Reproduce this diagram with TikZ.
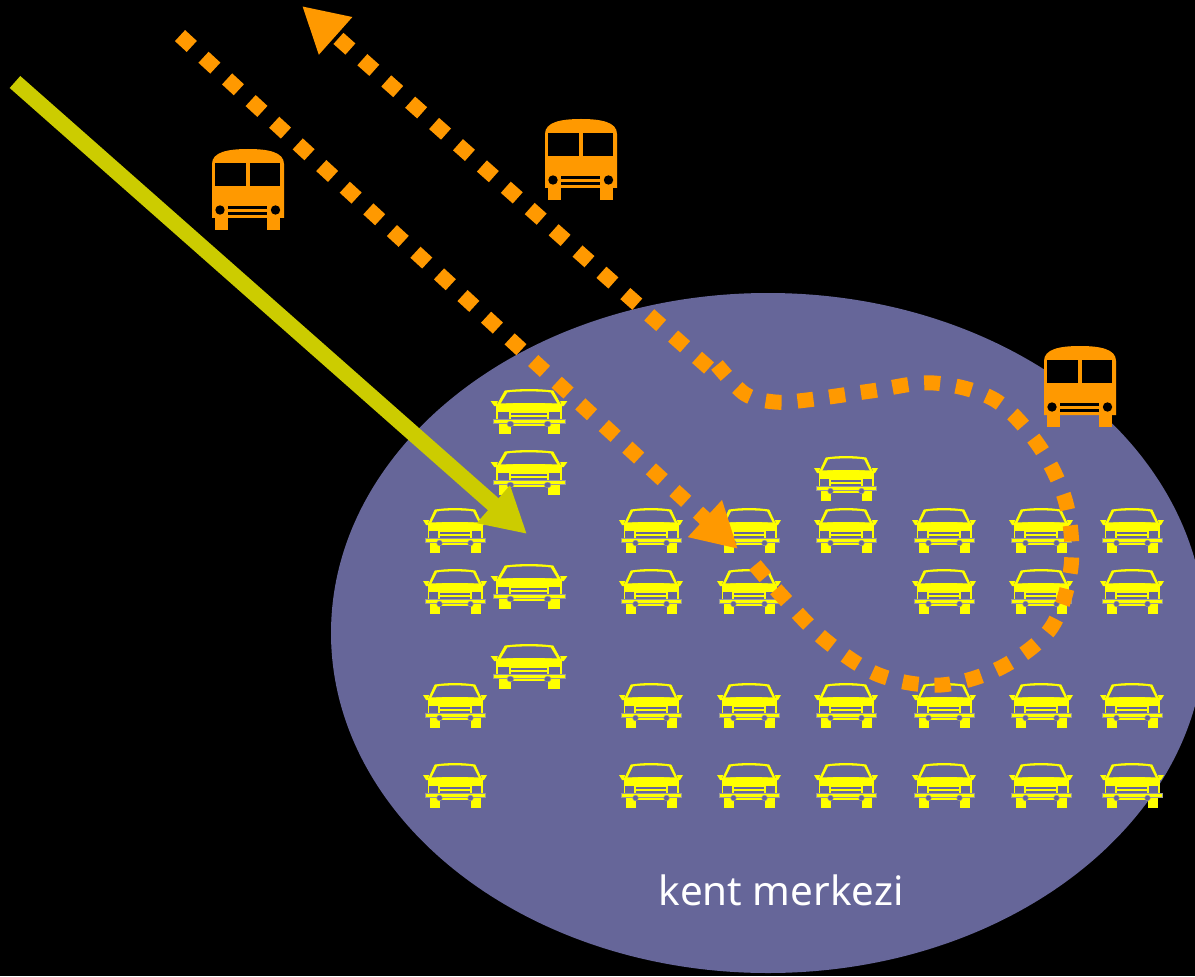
\documentclass[tikz,border=0pt]{standalone}
\usepackage{fontspec}
\setmainfont{Noto Sans}
\usetikzlibrary{arrows.meta}
\definecolor{kentblue}{HTML}{666699}
\definecolor{busorange}{HTML}{FF9900}
\definecolor{caryellow}{HTML}{FFFF00}
\definecolor{carrow}{HTML}{CCCC00}
\tikzset{
    busroute/.style={busorange, line width=0.3cm, dash pattern=on 0.32cm off 0.32cm},
    bustip/.style={-{Triangle[length=0.9cm,width=0.94cm]}},
    carroute/.style={carrow, line width=0.32cm, -{Triangle[length=0.9cm,width=0.94cm]}},
    carpart/.style={fill=caryellow},
    carcut/.style={fill=kentblue},
    carbumper/.style={fill=caryellow, draw=gray!80, line width=0.25pt},
    buspart/.style={fill=busorange},
    buscut/.style={fill=black},
    car/.pic={
        \draw[carpart, draw=caryellow, line width=0.5pt] (-26,15) -- (-20,2) .. controls (-8,0) and (8,0) .. (20,2) -- (26,15) -- cycle;
        \fill[carcut] (-23.5,14.5) -- (-18,3.5) .. controls (-8,2) and (8,2) .. (18,3.5) -- (23.5,14.5) .. controls (8,13.5) and (-8,13.5) .. (-23.5,14.5) -- cycle;
        \fill[carpart] (-27.5,15) rectangle (27.5,31);
        \fill[carpart] (-32,12) -- (-26,12) -- (-27,17) -- (-29,17) -- cycle;
        \fill[carpart] (32,12) -- (26,12) -- (27,17) -- (29,17) -- cycle;
        \fill[carcut] (-26,23) rectangle (-17,29.5);
        \fill[carcut] (17,23) rectangle (26,29.5);
        \fill[carcut] (-15,24) rectangle (15,26);
        \fill[carcut] (-15,27.5) rectangle (15,29.5);
        \fill[carpart] (-25,33) rectangle (-15,44.5);
        \fill[carpart] (16,33) rectangle (26,44.5);
        \fill[carpart] (-15,33) rectangle (16,36.5);
        \draw[carbumper] (-30,30.5) rectangle (30,33.8);
        \draw[carcut, draw=gray!80, line width=0.25pt] (-15.5,35) circle [radius=2.8];
        \draw[carcut, draw=gray!80, line width=0.25pt] (15.5,35) circle [radius=2.8];
    },
    bus/.pic={
        \fill[buspart] (-36,69) -- (-36,15) .. controls (-36,3) and (-20,0) .. (0,0) .. controls (20,0) and (36,3) .. (36,15) -- (36,69) -- cycle;
        \fill[buspart] (-33,69) rectangle (-20,81);
        \fill[buspart] (19,69) rectangle (32,81);
        \fill[buscut] (-33,14) rectangle (-2,37);
        \fill[buscut] (2,14) rectangle (32,37);
        \fill[buscut] (-20,57) rectangle (19,60);
        \fill[buscut] (-20,63) rectangle (19,66);
        \fill[buscut] (-28,61) circle [radius=4.7];
        \fill[buscut] (27.5,61) circle [radius=4.7];
    }
}
\begin{document}
\begin{tikzpicture}[x=0.02cm,y=-0.02cm]
    \useasboundingbox (0,0) rectangle (1195,976);
    \clip (0,0) rectangle (1195,976);
    \fill[black] (0,0) rectangle (1195,976);
    \fill[kentblue] (768,633) ellipse [x radius=437, y radius=340];
    \node[white, font=\bfseries\fontsize{23}{23}\selectfont] (kent) at (781,890) {kent merkezi};

    %left column
    \pic at (455,508) {car};
    \pic at (455,569) {car};
    \pic at (455,683) {car};
    \pic at (455,763) {car};
    %wide cars
    \pic[xscale=1.2] at (529,389) {car};
    \pic[xscale=1.2] at (529,450) {car};
    \pic[xscale=1.2] at (529,564) {car};
    \pic[xscale=1.2] at (529,644) {car};
    %block
    \pic at (651,508) {car};
    \pic at (651,569) {car};
    \pic at (651,683) {car};
    \pic at (651,763) {car};
    \pic at (749,508) {car};
    \pic at (749,569) {car};
    \pic at (749,683) {car};
    \pic at (749,763) {car};
    \pic at (846,456) {car};
    \pic at (846,508) {car};
    \pic at (846,683) {car};
    \pic at (846,763) {car};
    \pic at (944,508) {car};
    \pic at (944,569) {car};
    \pic at (944,683) {car};
    \pic at (944,763) {car};
    \pic at (1041,508) {car};
    \pic at (1041,569) {car};
    \pic at (1041,683) {car};
    \pic at (1041,763) {car};
    \pic at (1132,508) {car};
    \pic at (1132,569) {car};
    \pic at (1132,683) {car};
    \pic at (1132,763) {car};

    %buses
    \pic at (248,149) {bus};
    \pic at (581,119) {bus};
    \pic at (1080,346) {bus};

    %car road
    \coordinate (carin) at (15,82);
    \coordinate (carend) at (527,534);
    \draw[carroute] (carin) -- (carend);

    %bus roads
    \coordinate (busin) at (180,35.6);
    \coordinate (busstop) at (738,549);
    \coordinate (busjoin) at (709,368);
    \coordinate (busout) at (302,6);
    \draw[busroute, bustip] (busin) -- (busstop);
    \draw[busroute] plot[smooth, tension=0.55] coordinates {(755,565) (781,595) (825,640) (879,675) (941,685) (1002,667) (1051,628) (1071,567) (1066,503) (1039,446) (995,400) (934,383) (871,391) (807,400) (775,402) (745,394) (717,365)};
    \draw[busroute, bustip] (busjoin) -- (busout);
\end{tikzpicture}
\end{document}
